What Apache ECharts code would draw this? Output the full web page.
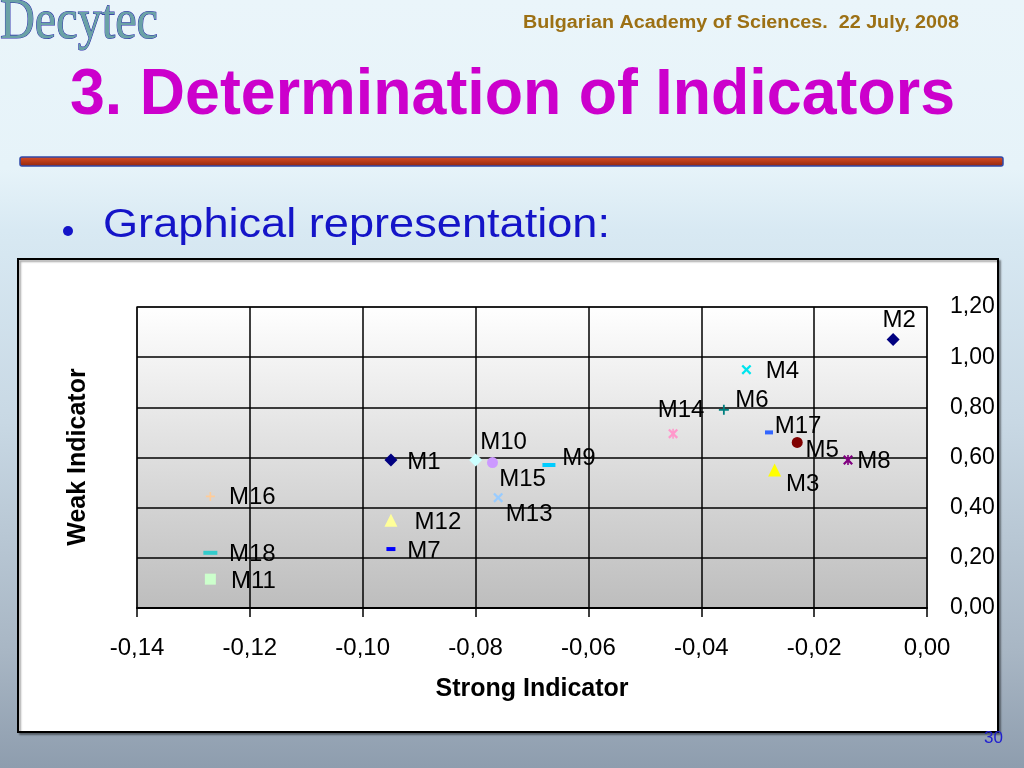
<!DOCTYPE html>
<html>
<head>
<meta charset="utf-8">
<script src="https://cdn.jsdelivr.net/npm/echarts@6/dist/echarts.min.js"></script>
<style>
  html, body { margin: 0; padding: 0; width: 1024px; height: 768px; overflow: hidden; }
  #chart { width: 1024px; height: 768px; }
</style>
</head>
<body>
<div id="chart"></div>
<script>
// ---------------- data ----------------
var pointNames = ['M1','M2','M3','M4','M5','M6','M7','M8','M9','M10','M11','M12','M13','M14','M15','M16','M17','M18'];
var strongValues = [-0.095, -0.006, -0.027, -0.032, -0.023, -0.036, -0.095, -0.014, -0.067, -0.080, -0.127, -0.095, -0.076, -0.045, -0.077, -0.127, -0.028, -0.127];
var weakValues   = [0.59, 1.07, 0.55, 0.95, 0.66, 0.79, 0.235, 0.59, 0.57, 0.59, 0.115, 0.35, 0.44, 0.695, 0.58, 0.445, 0.70, 0.22];
var xTicks = [-0.14, -0.12, -0.10, -0.08, -0.06, -0.04, -0.02, 0.00];
var yTicks = [0.00, 0.20, 0.40, 0.60, 0.80, 1.00, 1.20];

// ---------------- styles ----------------
var P_X = 'path://M0,1.6 L1.6,0 L5,3.4 L8.4,0 L10,1.6 L6.6,5 L10,8.4 L8.4,10 L5,6.6 L1.6,10 L0,8.4 L3.4,5 Z';
var P_STAR = 'path://M0,1.6 L1.6,0 L5,3.4 L8.4,0 L10,1.6 L6.6,5 L10,8.4 L8.4,10 L5,6.6 L1.6,10 L0,8.4 L3.4,5 Z M4.2,0 L5.8,0 L5.8,10 L4.2,10 Z';
var P_PLUS = 'path://M4.1,0 L5.9,0 L5.9,4.1 L10,4.1 L10,5.9 L5.9,5.9 L5.9,10 L4.1,10 L4.1,5.9 L0,5.9 L0,4.1 L4.1,4.1 Z';
var markerStyles = [
  { symbol: 'diamond',  size: 13,      color: '#000080' },
  { symbol: 'diamond',  size: 13,      color: '#000080' },
  { symbol: 'triangle', size: 13,      color: '#ffff00' },
  { symbol: P_X,        size: 10,      color: '#00e5ee' },
  { symbol: 'circle',   size: 11,      color: '#800000' },
  { symbol: P_PLUS,     size: 10,      color: '#008080' },
  { symbol: 'rect',     size: [9, 4],  color: '#0000ff' },
  { symbol: P_STAR,     size: 10,      color: '#800080' },
  { symbol: 'rect',     size: [13, 4], color: '#00ccff' },
  { symbol: 'diamond',  size: 13,      color: '#ccffff' },
  { symbol: 'rect',     size: [11, 11],color: '#ccffcc' },
  { symbol: 'triangle', size: 13,      color: '#ffff99' },
  { symbol: P_X,        size: 10,      color: '#99ccff' },
  { symbol: P_STAR,     size: 10,      color: '#ff99cc' },
  { symbol: 'circle',   size: 11,      color: '#cc99ff' },
  { symbol: P_PLUS,     size: 9,       color: '#ffcc99' },
  { symbol: 'rect',     size: [8, 4],  color: '#3366ff' },
  { symbol: 'rect',     size: [14, 4], color: '#33cccc' }
];
// label centre offset from the marker centre
var labelOffsets = [
  [33, 2], [6, -19], [28, 14], [36, 2], [25, 8], [28, -9], [33, 2], [26, 1], [30, -7],
  [28, -18], [43, 2], [47, 2], [31, 17], [8, -23], [30, 17], [42, 1], [29, -6], [42, 2]
];

var SANS = '"Liberation Sans", Arial, Helvetica, sans-serif';
var SERIF = '"Liberation Serif", "Times New Roman", serif';

function fmt(v) { return (Math.round(v * 100) / 100).toFixed(2).replace('.', ','); }

var measureCtx = document.createElement('canvas').getContext('2d');
function fitScale(text, font, targetWidth) {
  measureCtx.font = font;
  var w = measureCtx.measureText(text).width;
  return w > 0 ? targetWidth / w : 1;
}

var series = pointNames.map(function (name, i) {
  var st = markerStyles[i];
  return {
    name: name,
    type: 'scatter',
    symbol: st.symbol,
    symbolSize: st.size,
    itemStyle: { color: st.color, opacity: 1 },
    label: {
      show: true,
      position: 'inside',
      offset: labelOffsets[i],
      formatter: name,
      color: '#000000',
      fontFamily: SANS,
      fontSize: 24,
      align: 'center',
      verticalAlign: 'middle'
    },
    emphasis: { disabled: true },
    z: 5,
    data: [[strongValues[i], weakValues[i]]]
  };
});

var titleText = '3. Determination of Indicators';
var headerText = 'Bulgarian Academy of Sciences.  22 July, 2008';
var bulletText = 'Graphical representation:';
var logoText = 'Decytec';

var titleScale = fitScale(titleText, 'bold 64px ' + SANS, 885);
var headerScale = fitScale(headerText, 'bold 18px ' + SANS, 436);
var bulletScale = fitScale(bulletText, '41px ' + SANS, 507);
var logoScale = fitScale(logoText, '56px ' + SERIF, 158);

var chart = echarts.init(document.getElementById('chart'), null, { renderer: 'canvas' });

var option = {
  animation: false,
  backgroundColor: new echarts.graphic.LinearGradient(0, 0, 0, 1, [
    { offset: 0, color: '#eaf5fa' },
    { offset: 0.22, color: '#e6f3f9' },
    { offset: 0.30, color: '#d8e9f3' },
    { offset: 0.55, color: '#c8d8e4' },
    { offset: 0.85, color: '#a8b6c4' },
    { offset: 1, color: '#8e9dae' }
  ]),
  textStyle: { fontFamily: SANS },
  grid: {
    left: 137, right: 97, top: 307, bottom: 160,
    show: true,
    z: 1,
    borderColor: '#8a8a8a',
    borderWidth: 2,
    backgroundColor: new echarts.graphic.LinearGradient(0, 0, 0, 1, [
      { offset: 0, color: '#ffffff' },
      { offset: 1, color: '#bdbdbd' }
    ])
  },
  xAxis: {
    type: 'value',
    min: xTicks[0],
    max: xTicks[xTicks.length - 1],
    interval: 0.02,
    z: 2,
    name: 'Strong Indicator',
    nameLocation: 'middle',
    nameGap: 69,
    nameTextStyle: { fontFamily: SANS, fontSize: 25, fontWeight: 'bold', color: '#000' },
    axisLine: { show: true, onZero: false, lineStyle: { color: '#000', width: 2 } },
    axisTick: { show: true, inside: false, length: 9, lineStyle: { color: '#000', width: 1.5 } },
    axisLabel: { margin: 28, fontSize: 24, color: '#000', fontFamily: SANS, formatter: fmt },
    splitLine: { show: true, lineStyle: { color: '#000', width: 1.5 } }
  },
  yAxis: {
    type: 'value',
    position: 'right',
    min: yTicks[0],
    max: yTicks[yTicks.length - 1],
    interval: 0.2,
    z: 2,
    axisLine: { show: false },
    axisTick: { show: false },
    axisLabel: { margin: 23, fontSize: 23, color: '#000', fontFamily: SANS, formatter: fmt },
    splitLine: { show: true, lineStyle: { color: '#000', width: 1.5 } }
  },
  graphic: {
    elements: [
      // chart frame
      { type: 'rect', z: -5, shape: { x: 18, y: 259, width: 980, height: 473 },
        style: { fill: '#ffffff', stroke: '#000000', lineWidth: 2, shadowColor: 'rgba(0,0,0,0.35)', shadowOffsetX: 2, shadowOffsetY: 2, shadowBlur: 2 } },
      // logo
      { type: 'text', z: 10, x: 0, y: 23, scaleX: logoScale,
        style: { text: logoText, font: '56px ' + SERIF, fill: '#6aa2a6',
          stroke: '#2a2caa', lineWidth: 1.1, textAlign: 'left', textVerticalAlign: 'middle',
          shadowColor: 'rgba(70,70,120,0.5)', shadowOffsetX: 3, shadowOffsetY: 3, shadowBlur: 2 } },
      // header
      { type: 'text', z: 10, x: 523, y: 23.5, scaleX: headerScale,
        style: { text: headerText, font: 'bold 18px ' + SANS, fill: '#9c7014', textAlign: 'left', textVerticalAlign: 'middle' } },
      // title
      { type: 'text', z: 10, x: 70, y: 96, scaleX: titleScale,
        style: { text: titleText, font: 'bold 64px ' + SANS, fill: '#cc00cc', textAlign: 'left', textVerticalAlign: 'middle' } },
      // red rule
      { type: 'rect', z: 10, shape: { x: 20, y: 157, width: 983, height: 9, r: 2 },
        style: { fill: new echarts.graphic.LinearGradient(0, 0, 0, 1, [
              { offset: 0, color: '#d8502c' }, { offset: 0.5, color: '#b83a18' }, { offset: 1, color: '#8c2410' }]),
          stroke: '#3048a8', lineWidth: 1.5 } },
      // bullet
      { type: 'circle', z: 10, shape: { cx: 68, cy: 231, r: 5 }, style: { fill: '#1414c8' } },
      { type: 'text', z: 10, x: 103, y: 226, scaleX: bulletScale,
        style: { text: bulletText, font: '41px ' + SANS, fill: '#1414c8', textAlign: 'left', textVerticalAlign: 'middle' } },
      // y axis title (left side)
      { type: 'text', z: 10, x: 78, y: 457, rotation: Math.PI / 2,
        style: { text: 'Weak Indicator', font: 'bold 25px ' + SANS, fill: '#000', textAlign: 'center', textVerticalAlign: 'middle' } },
      // slide number
      { type: 'text', z: 10, x: 1003, y: 738,
        style: { text: '30', font: '17px ' + SANS, fill: '#2020d0', textAlign: 'right', textVerticalAlign: 'middle' } }
    ]
  },
  series: series
};

chart.setOption(option);
</script>
</body>
</html>
